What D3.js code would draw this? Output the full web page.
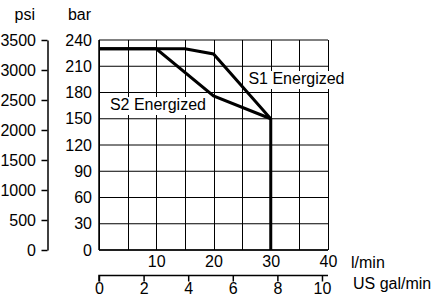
<!DOCTYPE html>
<html>
<head>
<meta charset="utf-8">
<script src="https://cdn.jsdelivr.net/npm/d3@7"></script>
<style>
  body { margin: 0; background: #fff; }
  svg { display: block; }
  text { font-family: "Liberation Sans", Arial, sans-serif; font-size: 16px; fill: #000; }
</style>
</head>
<body>
<svg id="chart" width="435" height="297"></svg>
<script>
// flow in l/min, pressure in bar
const flowTicks = [10, 20, 30, 40]
const barTicks = [0, 30, 60, 90, 120, 150, 180, 210, 240]
const psiTicks = [0, 500, 1000, 1500, 2000, 2500, 3000, 3500]
const galTicks = [0, 2, 4, 6, 8, 10]

const s1Flow = [0, 15, 20, 30, 30]
const s1Bar = [230, 230, 224, 150, 0]
const s2Flow = [0, 10, 20, 30]
const s2Bar = [230, 230, 176, 150]

const curveNames = ["S1 Energized", "S2 Energized"]

const margin = { top: 40, left: 99 }
const width = 229
const height = 210
const fontSize = "16px"

const svg = d3.select("#chart")

const x = d3.scaleLinear().domain([0, 40]).range([margin.left, margin.left + width])
const y = d3.scaleLinear().domain([0, 240]).range([margin.top + height, margin.top])
const psi = d3.scaleLinear().domain([0, 3500]).range([margin.top + height, margin.top])
const gal = d3.scaleLinear().domain([0, 10.27]).range([margin.left, margin.left + width])

// grid
const grid = svg.append("g")
grid.selectAll(".hgrid")
    .data(barTicks)
    .enter().append("line")
    .attr("x1", x(0)).attr("x2", x(40))
    .attr("y1", d => y(d)).attr("y2", d => y(d))
    .attr("stroke", "#000")
    .attr("stroke-width", 1)

grid.selectAll(".vgrid")
    .data(d3.range(0, 41, 5))
    .enter().append("line")
    .attr("x1", d => Math.round(x(d)) + 0.5).attr("x2", d => Math.round(x(d)) + 0.5)
    .attr("y1", y(240)).attr("y2", y(0))
    .attr("stroke", "#000")
    .attr("stroke-width", 1)

// white boxes behind labels
const labelAt = [[26.1, 189.7], [1.9, 160]]
const boxes = svg.append("g")
const labelG = []
curveNames.forEach((name, i) => {
    const t = svg.append("text")
        .attr("x", x(labelAt[i][0]))
        .attr("y", y(labelAt[i][1]))
        .text(name)
    labelG.push(t)
})
labelG.forEach(t => {
    const b = t.node().getBBox()
    boxes.append("rect")
        .attr("x", b.x - 3).attr("y", b.y + 1)
        .attr("width", b.width + 5).attr("height", b.height + 1)
        .attr("fill", "#fff")
})

const line = d3.line()
    .x(d => x(d[0]))
    .y(d => y(d[1]))

svg.append("path")
    .datum(d3.zip(s2Flow, s2Bar))
    .attr("d", line)
    .attr("fill", "none")
    .attr("stroke", "#000")
    .attr("stroke-width", 3)

svg.append("path")
    .datum(d3.zip(s1Flow, s1Bar))
    .attr("d", line)
    .attr("fill", "none")
    .attr("stroke", "#000")
    .attr("stroke-width", 3)

labelG.forEach(t => t.raise())

// bottom & left plot border
svg.append("line")
    .attr("x1", x(0)).attr("x2", x(40))
    .attr("y1", y(0)).attr("y2", y(0))
    .attr("stroke", "#000").attr("stroke-width", 1.5)
svg.append("line")
    .attr("x1", x(0)).attr("x2", x(0))
    .attr("y1", y(0)).attr("y2", y(240))
    .attr("stroke", "#000").attr("stroke-width", 1.5)

// bar axis (labels only)
const barAxis = svg.append("g")
    .attr("transform", `translate(${margin.left},0)`)
    .call(d3.axisLeft(y).tickValues(barTicks).tickSize(0).tickPadding(7))
barAxis.select(".domain").remove()

// psi axis
const psiAxis = svg.append("g")
    .attr("transform", "translate(47.5,0)")
    .call(d3.axisLeft(psi).tickValues(psiTicks).tickFormat(d3.format("d"))
        .tickSize(6).tickSizeOuter(0).tickPadding(5.5))

// l/min axis (labels only)
const flowAxis = svg.append("g")
    .attr("transform", `translate(0,${y(0)})`)
    .call(d3.axisBottom(x).tickValues(flowTicks).tickSize(0).tickPadding(6))
flowAxis.select(".domain").remove()

// US gal/min axis
const galAxis = svg.append("g")
    .attr("transform", "translate(0,275.5)")
    .call(d3.axisBottom(gal).tickValues(galTicks).tickSize(6).tickSizeOuter(0).tickPadding(1))

svg.selectAll(".tick text")
    .style("font-family", '"Liberation Sans", Arial, sans-serif')
    .style("font-size", fontSize)
    .attr("fill", "#000")
psiAxis.selectAll(".domain, .tick line").attr("stroke", "#000").attr("stroke-width", 1.5)
galAxis.selectAll(".domain, .tick line").attr("stroke", "#000").attr("stroke-width", 1.5)
galAxis.select(".domain").attr("d", `M${x(0)},6V0H${x(40)}`)

// unit labels
svg.append("text").attr("x", 35).attr("y", 20).attr("text-anchor", "end").text("psi")
svg.append("text").attr("x", 91).attr("y", 20).attr("text-anchor", "end").text("bar")
svg.append("text").attr("x", 351).attr("y", 268).text("l/min")
svg.append("text").attr("x", 353).attr("y", 289).text("US gal/min")
</script>
</body>
</html>
